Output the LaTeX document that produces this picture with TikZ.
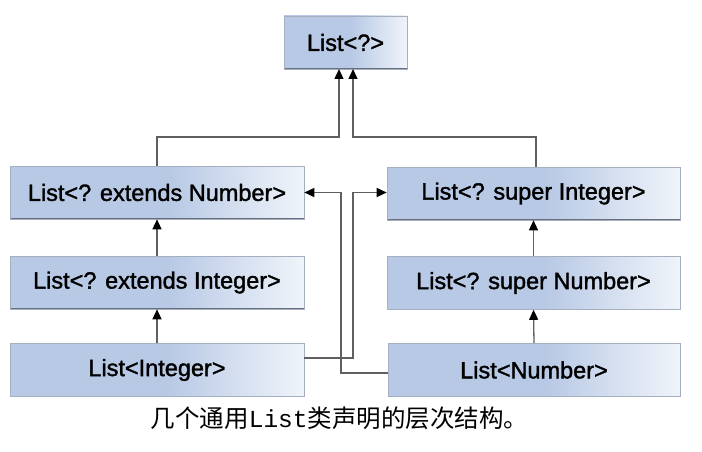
\documentclass[tikz,border=0pt]{standalone}
\usepackage{fontspec}
\setmainfont{Liberation Sans}
\newfontfamily\boxfont{Liberation Sans}[FakeBold=1.5]
\newfontfamily\cjkfont{Noto Sans CJK SC}
\newfontfamily\monofont{Liberation Mono}
\usetikzlibrary{arrows.meta}
\definecolor{boxblue}{RGB}{184,201,229}
\definecolor{boxlight}{RGB}{240,244,250}
\definecolor{boxedge}{RGB}{165,175,192}
\definecolor{boxbottom}{RGB}{105,112,125}
\definecolor{linkgray}{RGB}{95,95,95}
\pgfdeclarehorizontalshading{boxshade}{100bp}{color(0bp)=(boxblue); color(25bp)=(boxblue); color(52bp)=(boxblue); color(75bp)=(boxlight); color(100bp)=(boxlight)}
\tikzset{
  classbox/.style={shade, shading=boxshade, draw=boxedge, line width=0.6pt,
    inner sep=0pt, minimum height=53pt, align=center,
    font=\boxfont\fontsize{23.5}{26}\selectfont,
    path picture={\draw[boxbottom, line width=2pt]
      (path picture bounding box.south west) -- (path picture bounding box.south east);
      \draw[boxbottom!70, line width=1.2pt]
      (path picture bounding box.south west) -- (path picture bounding box.north west);}},
  link/.style={draw=linkgray, line width=1.3pt},
  arr/.style={link, -{Triangle[length=10pt,width=9pt,black]}},
}
\begin{document}
\begin{tikzpicture}[x=1pt,y=-1pt]
\useasboundingbox[fill=white] (0,0) rectangle (702,452);
\node[classbox, minimum width=123pt] (top) at (345.5,42.5) {List<?>};
\node[classbox, minimum width=294pt] (l1) at (157,192.5) {List<? extends Number>};
\node[classbox, minimum width=294pt] (l2) at (157,282.5) {List<? extends Integer>};
\node[classbox, minimum width=294pt] (l3) at (157,370) {List<Integer>};
\node[classbox, minimum width=293pt] (r1) at (533.5,193.5) {List<? super Integer>};
\node[classbox, minimum width=293pt] (r2) at (533.5,283) {List<? super Number>};
\node[classbox, minimum width=292pt] (r3) at (534,370) {List<Number>};
\node (cap) at (339.5,418) {\fontsize{24.5}{28}\selectfont\cjkfont 几个通用{\monofont List}类声明的层次结构。};
% vertical hierarchy
\draw[arr] (l2.north) -- (l1.south);
\draw[arr] (l3.north) -- (l2.south);
\draw[arr] (r2.north) -- (r1.south);
\draw[arr] (r3.north) -- (r2.south);
% to the top
\coordinate (ta) at (339,69);
\coordinate (tb) at (353,69);
\draw[arr] (l1.north) |- (339,137) -- (ta);
\draw[arr] ([xshift=2.5pt]r1.north) |- (353,137) -- (tb);
% crossing links
\draw[arr] (l3.east |- 0,358) -- (353,358) -- (353,192.5) -- (r1.west |- 0,192.5);
\draw[arr] (r3.west |- 0,373) -- (341,373) -- (341,192.5) -- (l1.east |- 0,192.5);
\end{tikzpicture}
\end{document}
